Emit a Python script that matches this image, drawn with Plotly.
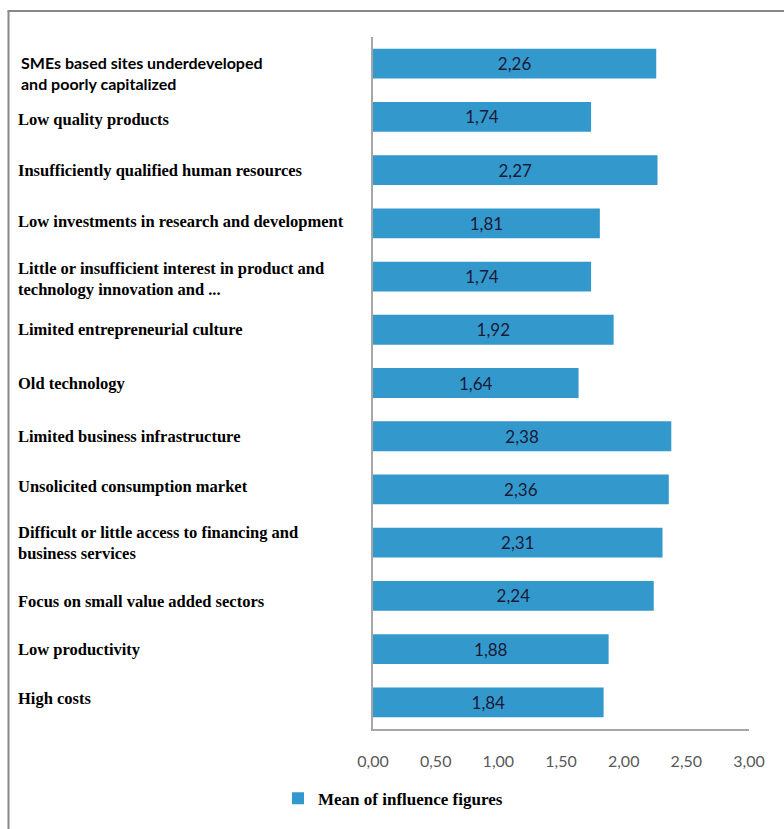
import plotly.graph_objects as go

categories = [
    "SMEs based sites underdeveloped<br>and poorly capitalized",
    "Low quality products",
    "Insufficiently qualified human resources",
    "Low investments in research and development",
    "Little or insufficient interest in product and<br>technology innovation and ...",
    "Limited entrepreneurial culture",
    "Old technology",
    "Limited business infrastructure",
    "Unsolicited consumption market",
    "Difficult or little access to financing and<br>business services",
    "Focus on small value added sectors",
    "Low productivity",
    "High costs",
]
values = [2.26, 1.74, 2.27, 1.81, 1.74, 1.92, 1.64, 2.38, 2.36, 2.31, 2.24, 1.88, 1.84]
sans_labels = {0}
label_shift = [-9, -3, 0, 2, -2, 0, 0, 0, 3, 0, -6, 0, 4]
tick_vals = [0, 0.5, 1.0, 1.5, 2.0, 2.5, 3.0]
tick_text = ["0,00", "0,50", "1,00", "1,50", "2,00", "2,50", "3,00"]
series_name = "Mean of influence figures"

W, H = 784, 829
L, R, T, B = 373, 35, 37, 98
pw, ph = W - L - R, H - T - B

def px_x(px):
    return (px - L) / pw

def px_y(py):
    return (H - B - py) / ph

fig = go.Figure()
fig.add_trace(go.Bar(
    y=list(range(len(categories))),
    x=values,
    orientation="h",
    name=series_name,
    marker=dict(color="#3399cc", line=dict(width=0)),
    text=[f"{v:.2f}".replace(".", ",") for v in values],
    textposition="inside",
    insidetextanchor="middle",
    textfont=dict(family="Lato", size=17, color="#1a1a38"),
    showlegend=True,
))

annotations = []
for i, c in enumerate(categories):
    if i in sans_labels:
        font = dict(family="Lato", size=16, color="#000000", weight="bold")
        x0 = px_x(19)
        txt = f"<b>{c}</b>"
    else:
        font = dict(family="Liberation Serif", size=16.5, color="#000000", weight="bold")
        x0 = px_x(16)
        txt = c
    annotations.append(dict(
        x=x0, xref="paper", y=i, yref="y",
        text=txt, yshift=label_shift[i],
        showarrow=False, xanchor="left", yanchor="middle", align="left",
        font=font,
    ))

shapes = [
    dict(type="line", xref="paper", yref="paper", x0=px_x(8.5), x1=px_x(8.5),
         y0=px_y(11), y1=px_y(900), line=dict(color="#888888", width=2)),
    dict(type="line", xref="paper", yref="paper", x0=px_x(7.5), x1=px_x(900),
         y0=px_y(11), y1=px_y(11), line=dict(color="#888888", width=2)),
]

fig.update_layout(
    width=W, height=H,
    margin=dict(l=L, r=R, t=T, b=B, pad=0),
    paper_bgcolor="white", plot_bgcolor="white",
    bargap=0.44,
    xaxis=dict(range=[0, 3], tickvals=tick_vals, ticktext=tick_text,
               showgrid=False, zeroline=False, showline=True,
               linecolor="#a6a6a6", linewidth=1.5, ticks="",
               tickfont=dict(family="Lato", size=16, color="#595959"),
               ticklabelstandoff=17, fixedrange=True),
    yaxis=dict(autorange="reversed", showticklabels=False, showgrid=False,
               zeroline=False, showline=True, linecolor="#a6a6a6", linewidth=1.5,
               ticks="", range=[12.5, -0.5]),
    legend=dict(orientation="h", x=px_x(278), y=px_y(801), xanchor="left",
                yanchor="middle", font=dict(family="Liberation Serif", size=17,
                color="#000000", weight="bold"), itemwidth=30,
                bgcolor="rgba(0,0,0,0)"),
    annotations=annotations,
    shapes=shapes,
)

fig.write_html("out.html")
